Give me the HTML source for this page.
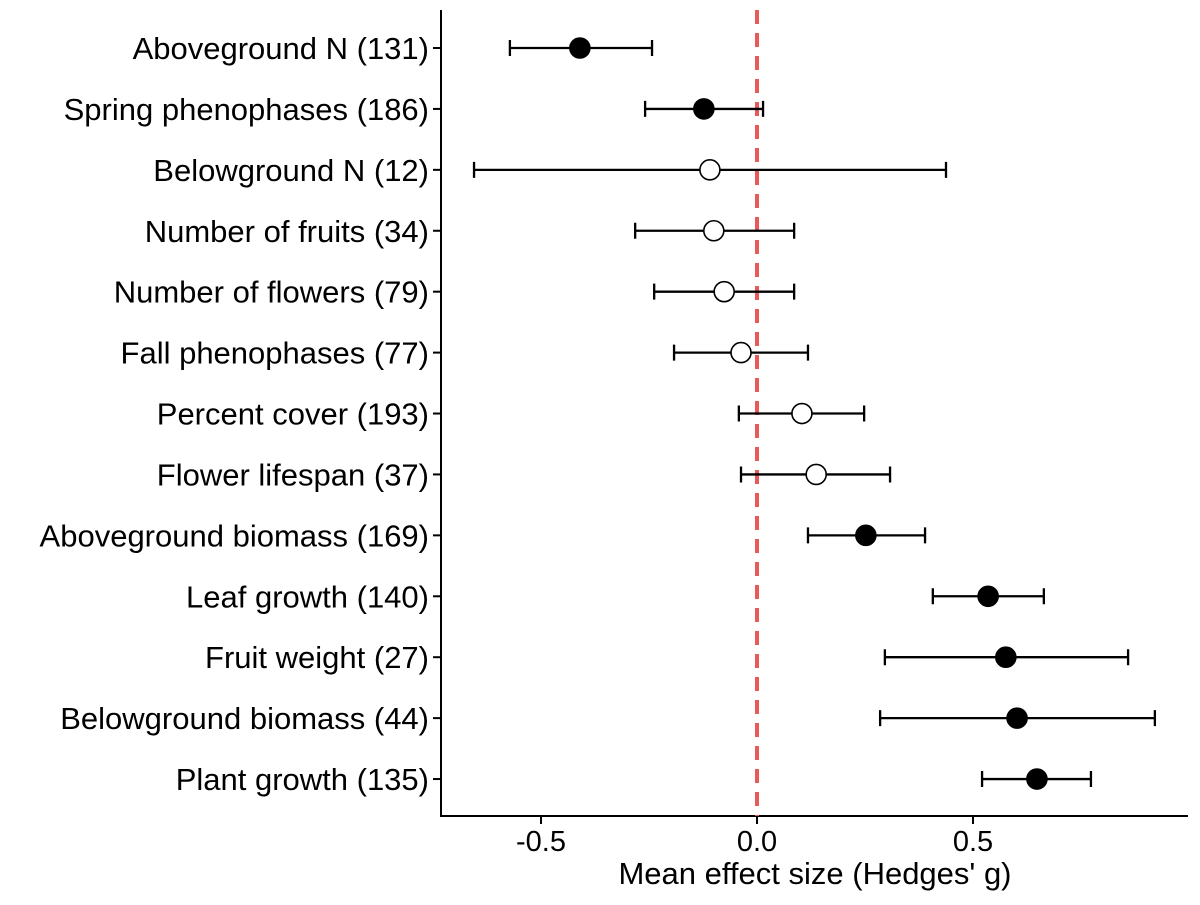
<!DOCTYPE html>
<html><head><meta charset="utf-8"><style>
body{margin:0;background:#fff}
svg text{font-family:"Liberation Sans",Arial,sans-serif;fill:#000}
</style></head><body>
<svg id="chart" width="1200" height="900"></svg>
<script>
const labels=["Aboveground N (131)","Spring phenophases (186)","Belowground N (12)","Number of fruits (34)","Number of flowers (79)","Fall phenophases (77)","Percent cover (193)","Flower lifespan (37)","Aboveground biomass (169)","Leaf growth (140)","Fruit weight (27)","Belowground biomass (44)","Plant growth (135)"];
const means=[-0.41,-0.123,-0.109,-0.1,-0.076,-0.037,0.104,0.137,0.252,0.535,0.576,0.602,0.648];
const lows=[-0.572,-0.259,-0.655,-0.282,-0.238,-0.192,-0.042,-0.037,0.118,0.407,0.296,0.285,0.521];
const highs=[-0.243,0.014,0.4375,0.086,0.086,0.118,0.248,0.308,0.389,0.664,0.859,0.921,0.773];
const significant=[true,true,false,false,false,false,false,false,true,true,true,true,true];
const xTicks=[-0.5,0,0.5];
const xTickLabels=["-0.5","0.0","0.5"];
const NS="http://www.w3.org/2000/svg";
const svg=document.getElementById('chart');
const x=v=>757+432*v;
const y=i=>48+i*60.92;
function mk(t,a,txt){const e=document.createElementNS(NS,t);for(const k in a)e.setAttribute(k,a[k]);if(txt!==undefined)e.textContent=txt;svg.appendChild(e);return e;}
let e;
e=mk('line',{x1:441,y1:10,x2:441,y2:817,stroke:'#000','stroke-width':2});


e=mk('line',{x1:440,y1:816,x2:1188,y2:816,stroke:'#000','stroke-width':2});


e=mk('line',{x1:x(0),y1:10,x2:x(0),y2:816,stroke:'#e85a5a','stroke-width':4,'stroke-dasharray':'14,9'});


xTicks.forEach((t,i)=>{
 e=mk('line',{x1:x(t),y1:816,x2:x(t),y2:824,stroke:'#000','stroke-width':2});
 
 
 e=mk('text',{x:x(t),y:851,'text-anchor':'middle','font-size':29},xTickLabels[i]);
 
 
});
e=mk('text',{x:815,y:884,'text-anchor':'middle','font-size':31},"Mean effect size (Hedges' g)");


labels.forEach((l,i)=>{
 const yy=y(i);
 e=mk('line',{x1:433,y1:yy,x2:441,y2:yy,stroke:'#000','stroke-width':2});
 
 
 e=mk('text',{x:429,y:yy+11,'text-anchor':'end','font-size':31},l);
 
 
 e=mk('path',{d:`M${x(lows[i])},${yy-8}V${yy+8}M${x(lows[i])},${yy}H${x(highs[i])}M${x(highs[i])},${yy-8}V${yy+8}`,stroke:'#000','stroke-width':2.3,fill:'none'});
 
 
 e=mk('circle',{cx:x(means[i]),cy:yy,r:10,fill:significant[i]?'#000':'#fff',stroke:'#000','stroke-width':1.6});
 
 
});
</script>
</body></html>
